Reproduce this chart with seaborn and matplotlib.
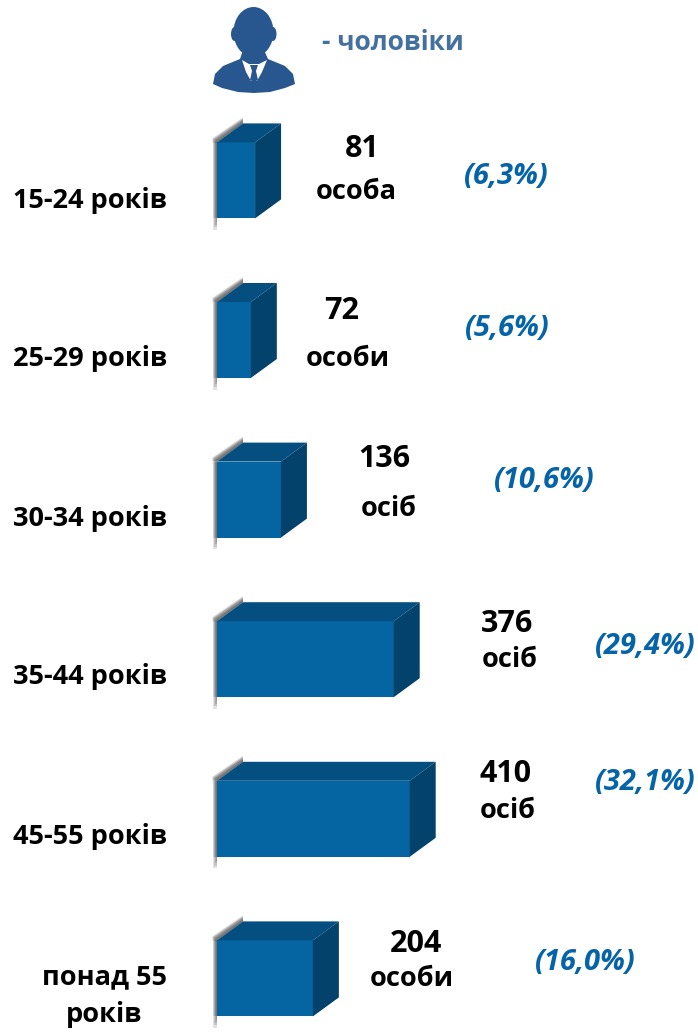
import matplotlib
matplotlib.use("Agg")
import matplotlib.pyplot as plt
import seaborn as sns
import pandas as pd
import numpy as np
from matplotlib.patches import Polygon, Ellipse
from matplotlib.transforms import Affine2D

ages = ["15-24 років", "25-29 років", "30-34 років", "35-44 років", "45-55 років", "понад 55\nроків"]
counts = [81, 72, 136, 376, 410, 204]
units = ["особа", "особи", "осіб", "осіб", "осіб", "особи"]
shares = ["(6,3%)", "(5,6%)", "(10,6%)", "(29,4%)", "(32,1%)", "(16,0%)"]
legend_label = "- чоловіки"

# layout (image pixels)
W, H = 698, 1032
X0, PX_PER_UNIT = 217, 0.47
Y0, ROW = 180.4, 159.6
DX, DY = 26, 19
num_xy = [(362,149),(342,311),(384,459),(507,624),(506,774),(416,944)]
unit_xy = [(356,192),(348,359),(389,509),(510,660),(508,811),(412,979)]
pct_xy = [(506,176),(507,328),(544,480),(645,646),(645,782),(585,962)]
age_xy = [(167,200),(167,359),(167,518),(167,677),(167,837)]

FRONT, TOP, SIDE = "#0565A3", "#044F7F", "#03436B"
BLUE_TXT, ICON = "#0563A8", "#28578F"
FONT = ["Open Sans", "DejaVu Sans"]

sns.set_theme(style="white")
plt.rcParams["font.family"] = FONT

fig = plt.figure(figsize=(W/100, H/100), dpi=100)
ax = fig.add_axes([0, 0, 1, 1])
df = pd.DataFrame({"age": ages, "count": counts})
sns.barplot(data=df, x="count", y="age", orient="h", color=FRONT, saturation=1,
            width=76/ROW, ax=ax, zorder=3, edgecolor="none", linewidth=0)
ax.set_xlim(-X0/PX_PER_UNIT, (W-X0)/PX_PER_UNIT)
ax.set_ylim((H-Y0)/ROW, -Y0/ROW)
ax.axis("off")

px = Affine2D().scale(1, -1).translate(0, H)  # image pixel coordinates
dxu, dyu = DX/PX_PER_UNIT, DY/ROW

for bar in list(ax.patches):
    x1 = bar.get_x() + bar.get_width()
    y0 = min(bar.get_y(), bar.get_y()+bar.get_height())
    y1 = max(bar.get_y(), bar.get_y()+bar.get_height())
    ax.add_patch(Polygon([(0,y0),(x1,y0),(x1+dxu,y0-dyu),(dxu,y0-dyu)], fc=TOP, ec="none", zorder=3))
    ax.add_patch(Polygon([(x1,y0),(x1+dxu,y0-dyu),(x1+dxu,y1-dyu),(x1,y1)], fc=SIDE, ec="none", zorder=3))
    # soft grey shadow along left and top-left edges
    for w, a in zip([4.5, 3.5, 2.5, 1.5], [0.3, 0.4, 0.45, 0.5]):
        wu = w/PX_PER_UNIT
        ax.add_patch(Polygon([(-wu,y0),(0,y0),(0,y1),(-wu,y1)], fc="#666666", ec="none", alpha=a, zorder=2))
        ax.add_patch(Polygon([(-wu,y1),(0,y1),(0,y1+2.6*w/ROW),(-wu,y1+2.6*w/ROW)], fc="#777777", ec="none", alpha=a*0.7, zorder=2))
        ax.add_patch(Polygon([(-wu,y0),(0,y0),(dxu,y0-dyu),(dxu,y0-dyu-w*1.3/ROW),(-wu,y0-w*0.9/ROW)],
                             fc="#666666", ec="none", alpha=a, zorder=2))

for i in range(len(counts)):
    ax.text(*num_xy[i], str(counts[i]), transform=px, ha="center", va="center", fontsize=22, fontweight="bold", color="black")
    ax.text(*unit_xy[i], units[i], transform=px, ha="center", va="center", fontsize=19.5, fontweight="bold", color="black")
    ax.text(*pct_xy[i], shares[i], transform=px, ha="center", va="center", fontsize=21, fontweight="bold", fontstyle="italic", color=BLUE_TXT)
for i in range(5):
    ax.text(*age_xy[i], ages[i], transform=px, ha="right", va="center", fontsize=19.5, fontweight="bold", color="black")
first, second = ages[5].split("\n")
ax.text(167, 977, first, transform=px, ha="right", va="center", fontsize=19.5, fontweight="bold", color="black")
ax.text(104.5, 1015, second, transform=px, ha="center", va="center", fontsize=19.5, fontweight="bold", color="black")

# legend
ax.text(393, 42, legend_label, transform=px, ha="center", va="center", fontsize=19, fontweight="bold", color="#44709F")

# person icon
def poly(pts, c, z=5):
    ax.add_patch(Polygon(pts, closed=True, fc=c, ec="none", transform=px, zorder=z))
ax.add_patch(Ellipse((253.5, 32), 40, 50, fc=ICON, ec="none", transform=px, zorder=5))
ax.add_patch(Ellipse((234.5, 34), 7, 14, fc=ICON, ec="none", transform=px, zorder=5))
ax.add_patch(Ellipse((273, 34), 7, 14, fc=ICON, ec="none", transform=px, zorder=5))
poly([(243,50),(264,50),(268,59),(285,66),(293,74),(295,84),(285,88),(270,92),(254,93),(238,92),(222,88),(213,84),(215,74),(223,66),(240,59)], ICON)
poly([(242,60),(249,64),(259,64),(267,60),(262,72),(257,81),(251,81),(246,72)], "white", 6)
poly([(250,65),(258,65),(256,71),(258,80),(254,82),(250,80),(252,71)], ICON, 7)

fig.savefig("out.png", dpi=100)
